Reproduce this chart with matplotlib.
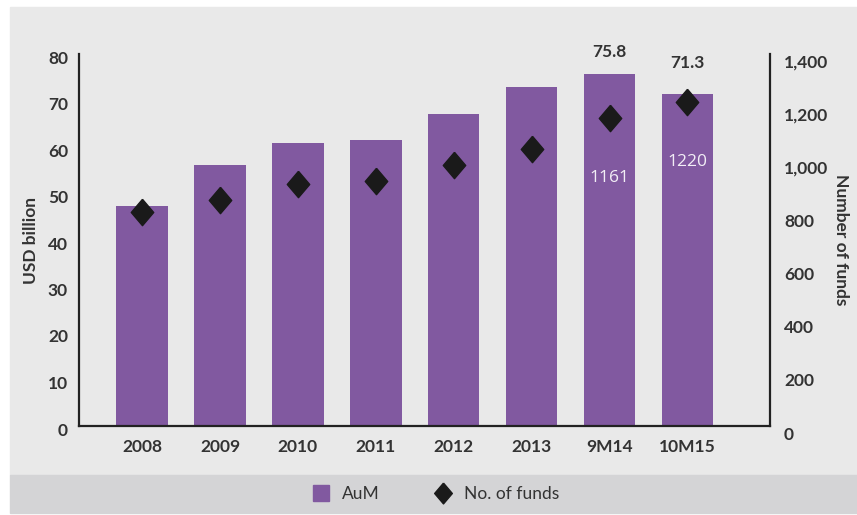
import matplotlib.pyplot as plt
from matplotlib.patches import Rectangle
from matplotlib.lines import Line2D
from matplotlib.transforms import ScaledTranslation

plt.rcParams['font.family'] = ['Lato', 'DejaVu Sans']

# assets under management (USD bn) and number of funds
periods = ['2008', '2009', '2010', '2011', '2012', '2013', '9M14', '10M15']
aum = [47.3, 56.1, 60.8, 61.4, 67.0, 72.8, 75.8, 71.3]
funds = [806, 852, 912, 923, 983, 1044, 1161, 1220]

left_ticks = [0, 10, 20, 30, 40, 50, 60, 70, 80]
right_ticks = [0, 200, 400, 600, 800, 1000, 1200, 1400]

purple = '#8159a0'
txt = '#333333'
fs = 12.5

fig = plt.figure(figsize=(8.57, 5.15), dpi=100)
fig.patch.set_facecolor('white')

# grey panel and legend strip behind the chart
fig.patches.append(Rectangle((10 / 857, 40 / 515), 847 / 857, 468 / 515,
                             transform=fig.transFigure, color='#e9e9e9', zorder=-2))
fig.patches.append(Rectangle((10 / 857, 2 / 515), 847 / 857, 38 / 515,
                             transform=fig.transFigure, color='#d4d4d6', zorder=-1))

ax = fig.add_axes([79 / 857, 89 / 515, 691 / 857, 372 / 515])
ax.set_facecolor('none')
x = list(range(len(periods)))
ax.bar(x, aum, width=0.66, color=purple, zorder=2)
ax.set_xlim(-0.81, 8.06)
ax.set_ylim(0, 80)
ax.set_yticks(left_ticks)
ax.set_xticks(x)
ax.set_xticklabels(periods)
ax.tick_params(axis='both', length=0, labelsize=fs, colors=txt)
ax.tick_params(axis='y', pad=8)
ax.tick_params(axis='x', pad=9)
for lab in ax.get_xticklabels() + ax.get_yticklabels():
    lab.set_fontweight('bold')
for lab in ax.get_yticklabels():
    lab.set_transform(lab.get_transform() + ScaledTranslation(0, -3 / 100, fig.dpi_scale_trans))
ax.spines['top'].set_visible(False)
ax.spines['right'].set_visible(False)
for s in ('left', 'bottom'):
    ax.spines[s].set_color('#222222')
    ax.spines[s].set_linewidth(1.6)
ax.set_ylabel('USD billion', fontsize=fs, fontweight='bold', color=txt, labelpad=6)

ax2 = ax.twinx()
diamond = [(0, 1), (0.85, 0), (0, -1), (-0.85, 0), (0, 1)]
ax2.plot(x, funds, linestyle='none', marker=diamond, markersize=19,
         color='#1a1a1a', zorder=3)
ax2.set_ylim(0, 1400)
ax2.set_yticks(right_ticks)
ax2.set_yticklabels([f'{v:,}' for v in right_ticks])
ax2.tick_params(axis='y', length=0, labelsize=fs, colors=txt, pad=10)
for lab in ax2.get_yticklabels():
    lab.set_fontweight('bold')
    lab.set_transform(lab.get_transform() + ScaledTranslation(0, -7 / 100, fig.dpi_scale_trans))
for s in ('top', 'left', 'bottom'):
    ax2.spines[s].set_visible(False)
ax2.spines['right'].set_color('#222222')
ax2.spines['right'].set_linewidth(1.6)
ax2.set_ylabel('Number of funds', fontsize=fs, fontweight='bold', color=txt,
               rotation=270, labelpad=15)

# value labels for the last two periods
ax.annotate(f'{aum[6]}', (6, aum[6]), xytext=(0, 22), textcoords='offset pixels',
            ha='center', va='center', fontsize=fs, fontweight='bold', color=txt)
ax.annotate(f'{aum[7]}', (7, aum[7]), xytext=(0, 31), textcoords='offset pixels',
            ha='center', va='center', fontsize=fs, fontweight='bold', color=txt)
for i in (6, 7):
    ax2.annotate(str(funds[i]), (i, funds[i]), xytext=(0, -60), textcoords='offset pixels',
                 ha='center', va='center', fontsize=fs, color='#f2eef6',
                 family=['Open Sans', 'DejaVu Sans'], zorder=4)

handles = [Line2D([], [], linestyle='none', marker='s', markersize=12, color=purple),
           Line2D([], [], linestyle='none', marker=diamond, markersize=15, color='#1a1a1a')]
fig.legend(handles, ['AuM', 'No. of funds'], loc='center', bbox_to_anchor=(434 / 857, 21 / 515),
           ncol=2, frameon=False, fontsize=fs, handletextpad=0.5, columnspacing=3.0,
           handlelength=1.4, labelcolor=txt)

fig.savefig('out.png', dpi=100)
